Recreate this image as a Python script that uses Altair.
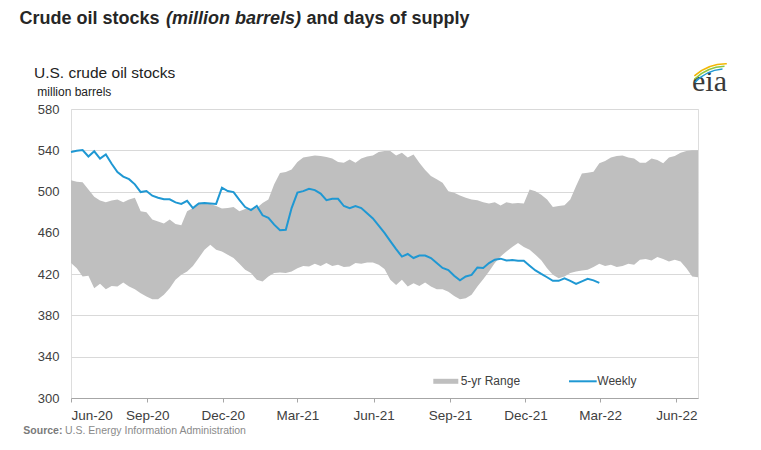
import altair as alt
import pandas as pd

# ---- data (weekly, million barrels) ----
start_date = "2020-06-01"

range_upper = [511, 509.5, 509, 502, 495, 491.3, 489.7, 491.3, 492.3, 489.7,
               492.3, 494, 481, 480, 473, 471, 469, 473, 468.6, 467.3,
               481, 484, 488.4, 488, 488, 486, 483.6, 484, 485, 481,
               483, 483.6, 484, 489, 492.3, 507, 518, 519, 521.5, 528.6,
               533, 534, 535, 534.5, 533.5, 532, 528.6, 528, 531, 528,
               532, 534, 535, 538.4, 539.4, 539.4, 535, 537.7, 533, 536,
               528, 521, 515, 512, 508.5, 500.4, 498.8, 496.2, 494, 492.3,
               491.7, 489.7, 488.4, 489.7, 486.5, 489.7, 488.4, 489, 488.4, 502,
               500.4, 497, 492.3, 485, 486, 486.8, 492.3, 505.3, 517.6, 518.3,
               519.2, 527.4, 529.6, 533, 534.5, 535, 533, 532, 528, 528,
               532, 530.6, 527.4, 533, 534.5, 537.7, 539.4, 540, 540]

range_lower = [430.7, 425.8, 417.7, 418.4, 406.4, 410.6, 405.4, 408.6, 408, 412,
               408, 405.4, 401.5, 398.3, 395.7, 395.7, 400, 406.4, 414.5, 419.3,
               422.6, 428, 435.6, 443.7, 448.5, 443.7, 442, 438.8, 435.6, 430,
               424.2, 421, 414.5, 412.8, 417.7, 421, 421.6, 421, 422.6, 425.8,
               428, 427.4, 430, 428, 430.7, 428, 429, 426.8, 427.4, 430.7,
               430, 431.3, 431.3, 429, 425, 414.5, 409.6, 414.5, 408, 411.2,
               408.6, 412, 408, 405.4, 405.4, 403, 398.9, 395.7, 396.6, 400,
               408, 415, 422.6, 430.7, 437.2, 442, 446.3, 450.2, 446.3, 443.7,
               438.8, 433.5, 425.8, 419.3, 416, 417.7, 421, 422.6, 423.6, 424.2,
               426.8, 430, 428, 429, 426.8, 428, 430, 429, 434, 434.6,
               433.3, 436.5, 434.6, 432.3, 434, 432.3, 425.8, 417.7, 417]

weekly_stocks = [538.4, 539.5, 540.2, 534, 539, 532, 536, 527, 519, 514.5,
                 512, 507, 499.5, 500.5, 496, 494, 492.5, 492.5, 489.5, 488,
                 491, 484, 488.5, 489, 488.5, 488, 503.7, 500.5, 499.5, 492,
                 485, 482, 486, 477, 474.5, 468, 462.5, 463, 484, 499,
                 500.4, 502.7, 501.4, 498, 491.7, 493, 493, 486, 484, 486,
                 484, 479, 474, 467, 460, 452, 444.3, 437, 439.5, 435.6,
                 438, 438, 435.6, 430.7, 426, 424, 418.4, 414, 417.7, 419.3,
                 426.5, 426, 430.7, 434, 435, 433.2, 433.6, 433, 433, 428.2,
                 423.6, 420.2, 417, 413.5, 413.5, 416, 413.5, 410.6, 413, 415.5,
                 414, 411.5]

tick_months = [(2020, 6), (2020, 9), (2020, 12), (2021, 3), (2021, 6),
               (2021, 9), (2021, 12), (2022, 3), (2022, 6)]
y_ticks = [300, 340, 380, 420, 460, 500, 540, 580]

dates = pd.date_range(start_date, periods=len(range_upper), freq="7D")
band_df = pd.DataFrame({"date": dates, "upper": range_upper, "lower": range_lower})
line_df = pd.DataFrame({"date": dates[:len(weekly_stocks)], "value": weekly_stocks})
one = pd.DataFrame({"k": [0]})

FONT = "Liberation Sans"
TXT = "#404040"

x_enc = alt.X(
    "date:T",
    scale=alt.Scale(domain=[alt.DateTime(year=2020, month=6, date=1),
                            alt.DateTime(year=2022, month=6, date=27)]),
    axis=alt.Axis(
        values=[alt.DateTime(year=y, month=m, date=1) for y, m in tick_months],
        format="%b-%y", title=None, grid=False,
        domainColor="#A6A6A6", tickColor="#A6A6A6", tickSize=4,
        labelFontSize=13.5, labelColor=TXT, labelPadding=6, labelFont=FONT,
    ),
)
y_scale = alt.Scale(domain=[300, 580], nice=False)
y_axis = alt.Axis(values=y_ticks, title=None, domain=False, ticks=False,
                  gridColor="#D9D9D9", labelFontSize=13, labelColor=TXT,
                  labelPadding=12, labelFont=FONT)

band = alt.Chart(band_df).mark_area(color="#BFBFBF", opacity=1).encode(
    x=x_enc,
    y=alt.Y("upper:Q", scale=y_scale, axis=y_axis),
    y2="lower:Q",
)

line = alt.Chart(line_df).mark_line(color="#1F98D3", strokeWidth=2).encode(
    x="date:T",
    y=alt.Y("value:Q", scale=y_scale),
)


def label(text, x, y, size, color=TXT, weight="normal", style="normal",
          font=FONT, baseline="alphabetic"):
    return alt.Chart(one).mark_text(
        text=text, align="left", baseline=baseline, fontSize=size,
        color=color, fontWeight=weight, fontStyle=style, font=font,
    ).encode(x=alt.value(x), y=alt.value(y))


texts = [
    label("Crude oil stocks", -51.6, -85, 18, "#262626", weight="bold"),
    label("(million barrels)", 95, -85, 18, "#262626", weight="bold", style="italic"),
    label("and days of supply", 235.5, -85, 18, "#262626", weight="bold"),
    label("U.S. crude oil stocks", -37, -30.7, 15.5, "#222222"),
    label("million barrels", -33.7, -13.3, 12, "#222222"),
    label("eia", 621, -18, 30, "#3a3a3a", font="Liberation Serif"),
    label("5-yr Range", 389.7, 272.3, 12, baseline="middle"),
    label("Weekly", 526.3, 272.3, 12, baseline="middle"),
    label("Source:", -47.7, 325, 10.5, "#7a7a7a", weight="bold"),
    label("U.S. Energy Information Administration", -6, 325, 10.5, "#8a8a8a"),
]

legend_band = alt.Chart(one).mark_rule(color="#BFBFBF", strokeWidth=5).encode(
    x=alt.value(362.3), x2=alt.value(387.3), y=alt.value(272.3))
legend_line = alt.Chart(one).mark_rule(color="#1F98D3", strokeWidth=2).encode(
    x=alt.value(498), x2=alt.value(525.7), y=alt.value(272.3))

arcs = [
    alt.Chart(one).mark_arc(radius=48, radius2=46.5, theta=5.55, theta2=6.30,
                            color="#F2B705").encode(x=alt.value(655), y=alt.value(2)),
    alt.Chart(one).mark_arc(radius=45.5, radius2=44, theta=5.50, theta2=6.25,
                            color="#8DC63F").encode(x=alt.value(655), y=alt.value(2)),
    alt.Chart(one).mark_arc(radius=43, radius2=41.5, theta=5.45, theta2=6.20,
                            color="#1F98D3").encode(x=alt.value(655), y=alt.value(2)),
]

chart = alt.layer(band, line, legend_band, legend_line, *texts, *arcs).properties(
    width=627, height=289,
    autosize=alt.AutoSizeParams(type="none"),
    padding={"left": 63, "top": 101, "right": 50, "bottom": 40},
).configure_view(stroke=None).configure(font=FONT)

chart.save("out.html", embed_options={"renderer": "svg", "actions": False})
